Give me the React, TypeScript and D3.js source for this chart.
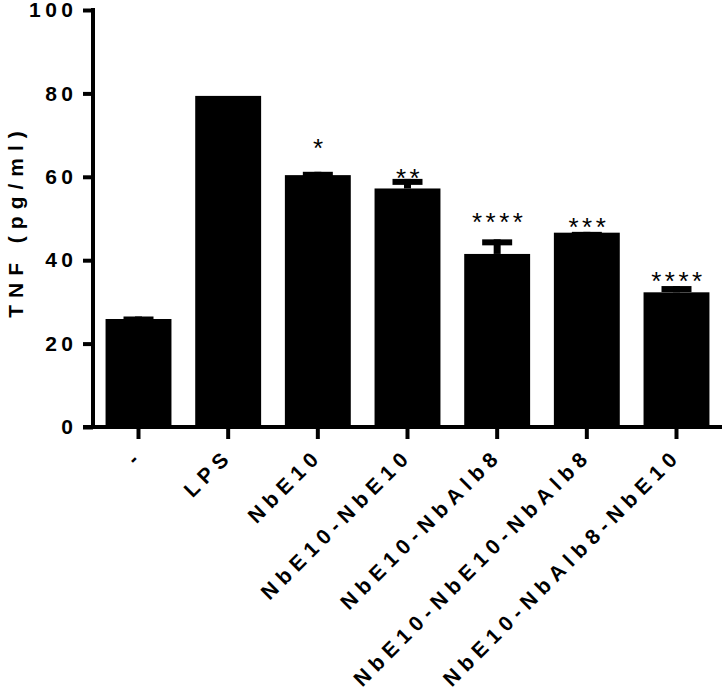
import { useEffect, useRef } from "react";
import * as d3 from "d3";

const categories = [
  "-",
  "LPS",
  "NbE10",
  "NbE10-NbE10",
  "NbE10-NbAlb8",
  "NbE10-NbE10-NbAlb8",
  "NbE10-NbAlb8-NbE10",
];
const means = [25.9, 79.4, 60.4, 57.2, 41.5, 46.6, 32.3];
const errors = [0.6, 0, 0.8, 2.3, 3.5, 0.2, 1.5];
const stars = ["", "", "*", "**", "****", "***", "****"];
const starLevels = [0, 0, 68.1, 60.9, 50.4, 49.2, 36.2];
const yTicks = [0, 20, 40, 60, 80, 100];

export default function App() {
  const ref = useRef<SVGSVGElement>(null);

  useEffect(() => {
    const W = 728;
    const H = 691;
    const left = 93;
    const top = 10;
    const bottom = 427;
    const right = 722;
    const font = "'Liberation Sans', Arial, sans-serif";

    const svg = d3.select(ref.current);
    svg.selectAll("*").remove();
    svg.attr("width", W).attr("height", H);

    const x = d3
      .scaleBand()
      .domain(categories)
      .range([left, right])
      .paddingInner(0.265)
      .paddingOuter(0.14);
    const y = d3.scaleLinear().domain([0, 100]).range([bottom, top]);

    const data = categories.map((c, i) => ({
      c,
      m: means[i],
      e: errors[i],
      s: stars[i],
      sl: starLevels[i],
    }));

    // бары
    svg
      .selectAll("rect.bar")
      .data(data)
      .enter()
      .append("rect")
      .attr("class", "bar")
      .attr("x", (d) => x(d.c)!)
      .attr("y", (d) => y(d.m))
      .attr("width", x.bandwidth())
      .attr("height", (d) => bottom - y(d.m))
      .attr("fill", "#000");

    // планки погрешностей
    const eb = svg
      .selectAll("g.err")
      .data(data.filter((d) => d.e > 0))
      .enter()
      .append("g");
    eb.append("line")
      .attr("x1", (d) => x(d.c)! + x.bandwidth() / 2)
      .attr("x2", (d) => x(d.c)! + x.bandwidth() / 2)
      .attr("y1", (d) => y(d.m))
      .attr("y2", (d) => y(d.m + d.e))
      .attr("stroke", "#000")
      .attr("stroke-width", 7);
    eb.append("line")
      .attr("x1", (d) => x(d.c)! + x.bandwidth() / 2 - 15)
      .attr("x2", (d) => x(d.c)! + x.bandwidth() / 2 + 15)
      .attr("y1", (d) => y(d.m + d.e) + 3)
      .attr("y2", (d) => y(d.m + d.e) + 3)
      .attr("stroke", "#000")
      .attr("stroke-width", 6);

    // звездочки
    svg
      .selectAll("text.star")
      .data(data.filter((d) => d.s))
      .enter()
      .append("text")
      .attr("x", (d) => x(d.c)! + x.bandwidth() / 2 + 2)
      .attr("y", (d) => y(d.sl) + 14)
      .attr("text-anchor", "middle")
      .attr("font-family", font)
      .attr("font-size", 26)
      .attr("letter-spacing", 3.5)
      .text((d) => d.s);

    // ось Y
    const ya = svg
      .append("g")
      .attr("transform", `translate(${left},0)`)
      .call(d3.axisLeft(y).tickValues(yTicks).tickSize(10).tickSizeOuter(0).tickPadding(8));
    ya.select(".domain").attr("stroke-width", 4).attr("d", `M0,${top - 2}V${bottom + 2}`);
    ya.selectAll(".tick line").attr("stroke-width", 4);
    ya.selectAll(".tick text")
      .attr("font-family", font)
      .attr("font-weight", "bold")
      .attr("font-size", 21)
      .attr("letter-spacing", 4.5)
      .attr("dx", 2.5)
      .attr("fill", "#000");

    // ось X
    const xa = svg
      .append("g")
      .attr("transform", `translate(0,${bottom})`)
      .call(d3.axisBottom(x).tickSize(12).tickSizeOuter(0));
    xa.select(".domain").attr("stroke-width", 4).attr("d", `M${left - 10},0H${right}`);
    xa.selectAll(".tick line").attr("stroke-width", 4);
    xa.selectAll(".tick text")
      .attr("font-family", font)
      .attr("font-weight", "bold")
      .attr("font-size", 21)
      .attr("letter-spacing", 6)
      .attr("text-anchor", "end")
      .attr("dy", 0)
      .attr("y", 0)
      .attr("transform", "translate(6,30) rotate(-45)")
      .attr("fill", "#000");

    // подпись оси Y
    svg
      .append("text")
      .attr("transform", `translate(23,221) rotate(-90)`)
      .attr("text-anchor", "middle")
      .attr("font-family", font)
      .attr("font-weight", "bold")
      .attr("font-size", 21)
      .attr("letter-spacing", 7)
      .text("TNF (pg/ml)");
  }, []);

  return <svg ref={ref} style={{ position: "absolute", left: 0, top: 0 }} />;
}
